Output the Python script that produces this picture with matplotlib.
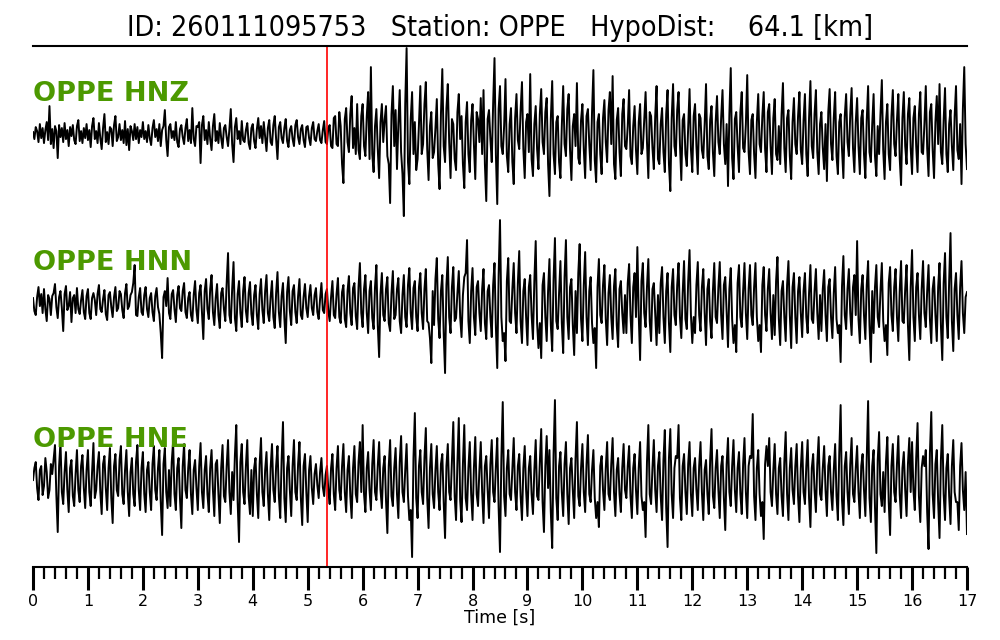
import numpy as np
import matplotlib
matplotlib.use("Agg")
import matplotlib.pyplot as plt
from matplotlib.ticker import MultipleLocator

# event info
event_id = "260111095753"
station = "OPPE"
hypo_dist = 64.1
p_pick = 5.35   # s
dt = 0.025      # s, trace resampled by eye from the picture

# amplitudes (arbitrary units), two lines per second
hnz = [
    2, -5, 7, 3, -8, 10, -4, 6, -9, 4, 12, -6, 28, -10, 5, -14, 8, 3, -24, 9,
    -3, 6, -8, 11, -5, 4, -12, 7, -2, 9, -6, -10, 8, 14, -7, 3, -9, 6, -4, 10,
    -6, 4, -13, 8, 16, -5, 3, -9, 11, -4, -15, 6, 20, -8, 2, -10, 7, 5, -12, 9,
    18, -7, -3, 10, -6, 4, -9, 13, -11, 5, -16, 8, 3, -6, 10, -5, 7, -9, 4, -3,
    12, -5, 3, -8, 9, -4, -11, 6, 14, -3, 5, -7, 10, -12, 4, 8, 24, -6, -22, 7,
    10, -4, 3, -6, 12, -8, -13, 5, 9, -3, -10, 6, 15, -7, 4, -9, 26, -5, -12, 8,
    7, 12, -29, 9, 18, -6, 4, -10, 12, -5, -16, 8, 20, -7, 3, -9, 11, -4, -14, 6,
    9, -3, -12, 5, 25, -10, -28, 7, 16, -5, 3, -10, 13, -6, -8, 4, 11, -9, -15, 6,
    10, -7, -14, 5, 16, -4, 8, -9, 12, -3, -17, 6, 14, -8, -11, 9, 18, -5, -25, 7,
    12, -4, -9, 6, 15, -7, -13, 4, 8, -5, -12, 9, 14, -3, -10, 5, 9, -6, -13, 7,
    8, -4, -11, 6, 12, -5, -7, 3, 10, -6, -9, 4, 13, -8, -10, 6, 9, -12, -14, 16,
    18, -10, -12, 22, 8, -30, -49, 15, 26, -8, -18, 20, 38, -14, 6, -20, 30, -16, -25, 18,
    30, -12, -22, 18, 42, -25, 67, -20, -38, 8, 25, -15, -44, 12, 30, -8, 14, 28, -22, -30,
    -69, 20, 48, -12, 24, -35, 10, 44, -18, -40, -82, 30, 86, -28, -50, 15, 42, -20, 12, -36,
    -25, 10, 48, -20, -10, 30, 52, -15, -46, 8, 22, -24, -18, 6, 35, -30, -55, 20, 65, -12,
    -28, 26, 50, -8, -44, 15, 10, -25, -36, 22, 40, -5, 18, -30, -54, 12, 32, -20, -38, 14,
    30, -10, -45, 22, 15, -8, 36, -20, 44, -30, -67, 15, 24, -5, -28, 30, 76, -20, -70, 25,
    48, -12, -20, 8, 55, -22, -38, 10, 26, -28, -50, 16, 40, -6, -15, 24, 52, -15, -44, 12,
    20, -18, 60, -25, -42, 10, 28, -15, -35, 20, 45, -8, -20, 22, 36, -30, -62, 15, 53, -20,
    -40, 12, 18, -28, -44, 8, 48, -10, -22, 25, 40, -16, -46, 8, 20, -12, 51, -24, -30, 14,
    30, -15, -44, 18, 25, -10, -36, 22, 64, -26, -48, 12, 20, -20, -40, 16, 34, -8, -28, 24,
    42, -10, 58, -30, -45, 14, 26, -18, -42, 20, 35, -12, -15, 8, 44, -22, -30, 8, 28, -16,
    -40, 12, 30, -20, -14, 15, 42, -8, -44, 22, 18, -14, -35, 18, 48, -25, -30, 10, 26, -18,
    -38, 20, 44, -30, -57, 16, 50, -12, -22, 24, 42, -10, -46, 14, 20, -20, -32, 8, 45, -15,
    -38, 18, 30, -12, -40, 20, 16, -16, -24, 10, 50, -22, -35, 14, 28, -18, -42, 12, 38, -8,
    -20, 16, 44, -10, -30, 10, -52, 20, 66, -24, -45, 15, 22, -12, -38, 22, 42, -14, -18, 10,
    59, -18, -40, 14, 20, -20, -44, 12, 40, -10, -18, 18, 42, -15, -38, 22, 30, -12, -40, 16,
    35, -20, -26, 8, -30, 20, 51, -14, -38, 16, 24, -22, -45, 12, 36, -10, -20, 18, 42, -16,
    -30, 14, 40, -20, -42, 16, 53, -12, -24, 20, 44, -18, -40, 10, 22, -14, -35, 10, -47, 22,
    45, -10, -26, 16, 42, -22, -40, 12, 20, -15, -44, 18, 40, -8, -22, 20, 46, -14, -38, 12,
    36, -12, -40, 16, 24, -20, -44, 14, 48, -18, -28, 10, 40, -22, -42, 8, -20, 20, 54, -16,
    -45, 12, 30, -20, -36, 18, 44, -10, -22, 14, 40, -24, -51, 16, 42, -12, -30, 20, 36, -14,
    -40, 16, 28, -12, -38, 20, 42, -18, -20, 10, 48, -14, -42, 22, 30, -16, -44, 12, 38, -10,
    50, -18, -30, 14, 46, -20, -38, 10, 24, -12, -36, 18, 48, -16, -25, 10, -50, 25, 67, -10,
    -35,
]

hnn = [
    5, -8, -12, 6, 16, -3, 9, -10, 14, -6, -18, 8, 4, -12, 7, 10, 19, -4, -15, 6,
    12, -5, -28, 9, 17, -7, -3, 11, -19, 5, 8, -10, 15, -6, -11, 3, 13, -9, -16, 7,
    14, -10, -16, 5, 10, 3, -12, 9, 18, -6, -9, 4, 13, -11, -17, 8, 11, -4, -14, 6,
    16, -8, -5, 12, 9, -7, -15, 10, 19, -6, -3, 8, 11, 20, 38, -12, -13, 6, 15, -9,
    -12, 8, 16, -6, -14, 5, 10, -9, -18, 7, 15, -4, -11, -30, -55, 6, 12, -3, 25, -10,
    -16, 9, 13, -6, -19, 8, 17, -5, -8, 12, 20, -9, -15, 5, 11, -12, -18, 8, 22, -7,
    -20, 10, 18, -8, -36, 12, 24, -6, -16, 14, 28, -9, -22, 5, 19, -12, -25, 10, 15, -6,
    -18, 20, 50, -12, -20, 14, 41, -15, -28, 9, 22, -10, -24, 12, 26, -8, -19, 10, 21, -11,
    -22, 8, 18, -12, -26, 9, 24, -7, -20, 12, 28, -10, -18, 6, 22, -14, -25, 10, 31, -9,
    -24, 7, 20, -15, -40, 11, 26, -8, -22, 12, 18, -9, -20, 7, 24, -12, -16, 6, 19, -5,
    -14, 7, 18, -5, -12, 8, 15, -9, -16, 4, 20, -7, -10, 9, 14, -8, -18, 6, 22, -12,
    -15, 9, 25, -14, -20, 11, 18, -16, -24, 12, 27, -10, -22, 15, 20, -13, -26, 16, 40, -10,
    -24, 14, 28, -10, -30, 12, 22, -15, -26, 16, 38, -22, -54, 9, 30, -12, -18, 14, 26, -20,
    -28, 10, 32, -16, -12, 14, 25, -18, -30, 8, 28, -14, -24, 18, 35, -10, -26, 15, 22, -14,
    -28, 16, 30, -10, -26, 14, 34, -18, -20, -35, -60, 12, -22, 24, 45, -16, -35, 12, 28, -30,
    -70, 18, 46, -14, -30, 16, 36, -18, -15, 10, 32, -14, -34, 8, 26, 30, 63, -18, -40, 12,
    35, -14, -32, 16, 22, -10, -28, 14, 34, -20, -36, 12, 18, -14, -34, 18, 40, -24, -65, 28,
    83, -14, -38, -30, -58, 22, 45, -18, -20, 14, 40, -10, -30, 20, 52, -18, -40, 12, 24, -14,
    -42, 16, 28, -12, -36, 22, 62, -20, -45, -20, -55, 18, 30, -14, -38, 12, 44, -22, -48, 24,
    65, -18, -26, 10, 42, -20, -50, 26, 63, -14, -36, 16, 24, -22, -52, 12, -30, 30, 59, -16,
    -38, 18, 51, -14, -42, 12, 26, -20, -40, -25, -65, 16, 44, -12, -20, 18, 38, -16, -42, 10,
    28, -14, -36, 17, 34, -22, -44, 14, 22, -10, -30, 8, -30, 20, 39, -12, -40, 16, 30, -14,
    56, -12, -57, 22, 40, -10, -24, 16, 44, -18, -38, 14, 20, -12, -42, 8, -30, 20, 36, -14,
    -40, 12, 30, -20, -49, 16, 34, -12, -22, 18, 40, -14, -35, 10, 42, -16, -26, 22, 53, -12,
    -40, -14, -30, 18, 41, -12, -28, 16, 34, -10, -42, 14, 24, -18, -35, 12, 40, -14, -20, 16,
    41, -12, -36, 18, 26, -10, -44, 14, 35, -16, -40, -22, -49, 20, 38, -14, -24, 12, 40, -10,
    -36, 14, 38, -12, -22, 16, 40, -14, -38, -22, -49, 18, 36, -12, -28, 14, 34, -10, -36, 8,
    -32, 22, 46, -16, -42, 12, 22, -14, -38, 18, 42, -12, -45, 16, 30, -14, -40, 12, 26, -10,
    -34, 12, 30, -14, -30, 10, 38, -16, -20, 12, 34, -10, -36, 8, -28, 14, 33, -12, -38, 16,
    24, -14, -35, 10, 36, -16, -30, -22, -59, 17, 47, -12, -26, 14, 34, -10, -32, 16, 28, -12,
    62, -16, -40, 14, 28, -12, -36, 18, 42, -22, -59, 12, -30, 16, 38, -14, -24, 12, 40, -18,
    -38, -22, -52, 20, 36, -12, -28, 16, 34, -14, -38, 12, 42, -18, -20, 14, 38, -22, -57, 16,
    53, -14, -38, 16, 30, -12, -36, 14, 42, -10, -24, 12, 38, -16, -40, 14, 26, -12, -38, 16,
    40, -22, -57, 20, 50, -14, -35, 22, 70, -18, -48, 14, 30, -12, -36, 16, 42, -10, -30, 6,
    11,
]

hne = [
    0, 12, 18, -8, -20, 10, 14, -15, -6, 22, 8, -18, -10, 16, 6, 20, 35, -15, -52, 14,
    38, -12, -24, 8, 28, -10, -32, 12, 20, -16, -26, 6, 30, -10, -22, 14, 25, -8, -28, 10,
    30, -12, -26, 8, 37, -18, -10, 14, 28, -12, -34, 16, 24, -8, -30, 12, 32, -18, -43, 14,
    26, -10, -16, 20, 34, -14, -24, 10, 30, -12, -36, 8, 22, -14, -26, 18, 35, -10, -30, 12,
    28, -14, -32, 10, 18, -12, -30, 16, 34, -10, -20, 12, 30, -22, -55, 16, 32, -12, -28, 10,
    -26, 18, 38, -14, -30, 12, 22, -18, -48, 14, 36, -10, -18, 12, 30, -14, -34, 10, 20, -8,
    -30, 14, 37, -12, -28, 10, 24, -14, -32, 12, 30, -10, -36, 16, 20, -14, -43, 12, 35, -16,
    -22, 14, 40, -12, -34, 8, -20, 25, 55, -22, -62, 18, 36, -12, -24, 14, 40, -16, -34, 10,
    -36, 12, 22, -14, -38, 16, 42, -12, -26, 10, 28, -14, -40, 12, 36, -10, -22, 14, 34, -16,
    -38, 20, 58, -18, -42, 12, 24, -10, -36, 14, 40, -12, -20, 16, 38, -18, -45, 14, 26, -12,
    -42, 10, 24, -8, -24, 6, 16, -5, -18, 8, 22, -7, -16, 5, 14, -10, -24, 12, 26, -14,
    -30, 12, 34, -10, -20, 14, 36, -12, -32, 10, 24, -16, -38, 12, 34, -14, -22, 18, 38, -12,
    55, -14, -32, 12, 28, -10, -30, 16, 40, -12, -20, 14, 38, -10, -28, 12, 24, -20, -53, 14,
    40, -16, -26, 12, 32, -14, -38, 18, 44, -12, -22, 10, 36, -16, -40, -30, -77, 22, 67, -18,
    -38, 14, 30, -12, -24, 22, 52, -18, -48, 12, 36, -14, -28, 10, 34, -12, -30, 16, 26, -22,
    -58, 14, 36, -12, -20, 20, 58, -16, -40, 18, 62, -20, -42, 16, 55, -18, -30, 12, 38, -14,
    -40, 12, 43, -14, -26, 10, 38, -12, -43, 14, 24, -10, -38, 16, 40, -12, -22, 14, 42, -28,
    -72, 22, 78, -16, -36, 12, 30, -14, -20, 10, 42, -12, -30, 14, 26, -16, -40, 12, 34, -10,
    -36, 12, 24, -14, -34, 10, 40, -16, -20, 18, 51, -22, -52, 14, 44, -8, 30, -32, -68, 26,
    80, -18, -40, 14, 28, -12, -36, 16, 38, -14, -44, 12, 22, -10, -38, 22, 58, -16, -26, 12,
    36, -12, -32, 16, 45, -14, -22, 10, 30, -18, -38, -22, -47, 14, 24, -10, -30, 12, 38, -14,
    -20, 16, 42, -12, -36, 10, 22, -14, -32, 12, 36, -10, -18, 14, 34, -16, -38, 12, 26, -10,
    -34, 12, 38, -16, -30, -22, -57, 18, 55, -14, -24, 12, 40, -10, -32, 14, 28, -16, -40, 20,
    50, -28, -67, 22, 51, -14, -38, 12, 24, 22, 55, -18, -40, 14, 26, -12, -34, 16, 38, -14,
    -36, 12, 22, -10, -30, 14, 38, -12, -40, 10, 20, -14, -34, 20, 51, -16, -28, 12, 30, -10,
    -38, 14, 24, -18, -50, 16, 42, -12, -26, 14, 40, -10, -32, 12, 28, -14, -34, 16, 42, -12,
    -38, 14, 24, 22, 66, -16, -40, 12, 30, -14, -36, -22, -59, 16, 34, 14, 42, -12, -26, 10,
    36, -14, -34, 12, 22, -16, -36, 18, 48, -14, -40, 12, 32, -10, -24, 14, 36, -16, -42, 12,
    38, -12, -24, 14, 40, -18, -47, 12, 26, -10, -32, 16, 43, -14, -20, 12, 34, -10, -36, 14,
    24, -12, -30, 10, 36, -16, -40, 27, 75, -20, -45, 14, 28, -12, -34, 16, 42, -14, -22, 12,
    34, -12, -38, 14, 26, -10, -36, 22, 79, -18, -42, 14, 30, -27, -73, 20, 48, -14, -26, 8,
    -32, 18, 43, -22, -55, 14, 36, -12, -22, 16, 44, -14, -38, 12, 28, -10, -36, 16, 42, -12,
    38, -10, -30, 22, 57, -16, -42, 12, 24, 14, 30, -32, -69, 27, 68, -14, -38, 16, 30, -22,
    -58, 20, 55, -14, -40, 12, 26, -16, -44, 14, 40, -12, -22, -22, -50, 14, 37, -10, -30, 8,
    -54,
]

channels = ["HNZ", "HNN", "HNE"]
traces = [hnz, hnn, hne]

fig = plt.figure(figsize=(10, 6.4), dpi=100)
ax = fig.add_axes([0.033, 0.114, 0.934, 0.814])

offsets = [433, 264, 87]
for ch, tr, off in zip(channels, traces, offsets):
    tr = np.array(tr, dtype=float)
    t = np.arange(len(tr)) * dt
    ax.plot(t, tr + off, color="black", lw=1.4)
    ax.text(0, off + 33, f"{station} {ch}", color="#4c9900", fontsize=19.5,
            fontweight="bold", ha="left", va="baseline")

ax.axvline(p_pick, color="red", lw=1.2)

ax.set_xlim(0, 17)
ax.set_ylim(0, 521)
ax.set_yticks([])
ax.spines["left"].set_visible(False)
ax.spines["right"].set_visible(False)
ax.spines["top"].set_linewidth(1.5)
ax.spines["bottom"].set_linewidth(1.5)

ax.xaxis.set_major_locator(MultipleLocator(1))
ax.xaxis.set_minor_locator(MultipleLocator(0.2))
ax.tick_params(axis="x", which="major", length=16.5, width=2.2, labelsize=11.5, pad=3)
ax.tick_params(axis="x", which="minor", length=8.5, width=1.6)
ax.set_xlabel("Time [s]", fontsize=12.5, labelpad=0)

ax.set_title(f"ID: {event_id}   Station: {station}   HypoDist:    {hypo_dist:.1f} [km]",
             fontsize=20.5, fontstretch="condensed", pad=7)

fig.savefig("out.png", dpi=100)
